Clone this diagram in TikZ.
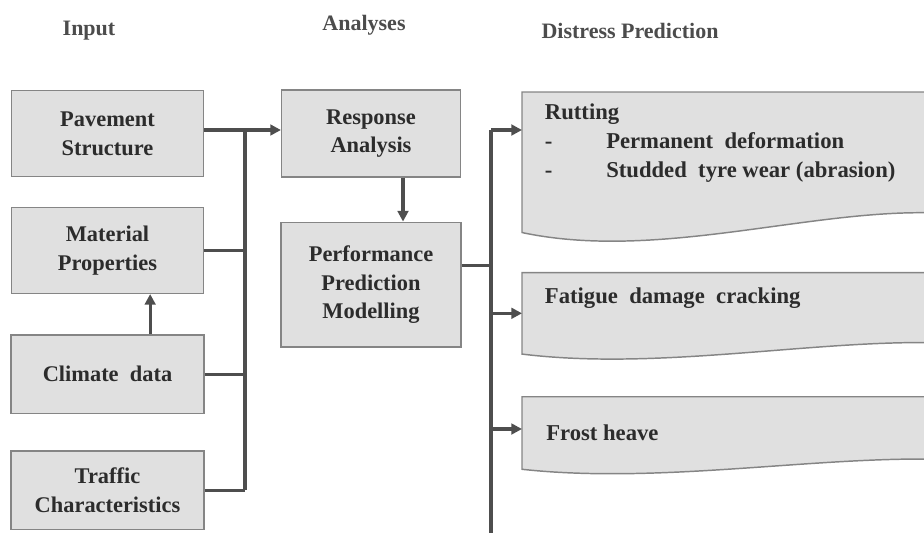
\documentclass[tikz,border=0pt]{standalone}
\usepackage{fontspec}
\setmainfont{Liberation Serif}
\usetikzlibrary{arrows.meta,positioning,calc}

\definecolor{boxfill}{HTML}{E0E0E0}
\definecolor{boxline}{HTML}{858585}
\definecolor{linkcol}{HTML}{4E4E4E}
\definecolor{textcol}{HTML}{2C2C2C}

% wavy "document" outline round a distress node
\newcommand{\docshape}[1]{%
  \filldraw[fill=boxfill, draw=boxline, line width=1.1pt]
    let \p1=(#1.south west), \p2=(#1.north east), \n1={\y2-\y1} in
    (\p1) -- (\x1,\y2) -- (\p2) -- (\x2,\y1+0.136*\n1)
    .. controls (\x1+222pt,\y1+0.19*\n1) and (\x1+104pt,\y1-0.21*\n1) .. (\p1) -- cycle;
}

\begin{document}
\begin{tikzpicture}[x=0.75pt, y=-0.75pt,
        Box/.style={rectangle, draw=boxline, fill=boxfill, line width=1.1pt, align=center,
            text=textcol, font=\bfseries\fontsize{16.8}{21.5}\selectfont},
        Distress/.style={rectangle, draw=none, minimum width=317pt, inner sep=0pt},
        Words/.style={align=left, text=textcol, inner sep=0pt, font=\bfseries\fontsize{17}{21.4}\selectfont},
        Head/.style={text=black!70, font=\bfseries\fontsize{16.5}{18}\selectfont},
        link/.style={draw=linkcol, line width=2.4pt},
        arrow/.style={link, -{Triangle[length=8pt, width=8pt]}},
    ]
        \useasboundingbox (0,0) rectangle (924,532);
        \clip (0,0) rectangle (924,532);

        %Headings
        \node[Head] (InputHead) at (89,31) {Input};
        \node[Head] (AnalysesHead) at (364,25) {Analyses};
        \node[Head] (DistressHead) at (630,31) {Distress Prediction};

        %Input column
        \node[Box, minimum width=144pt, minimum height=64.5pt] (Pavement) at (107.5,133.5) {Pavement\\Structure};
        \node[Box, minimum width=144pt, minimum height=64.5pt] (Material) [below=22pt of Pavement] {Material\\Properties};
        \node[Box, minimum width=145pt, minimum height=59pt] (Climate) [below=30pt of Material] {Climate\ \ data};
        \node[Box, minimum width=145pt, minimum height=59pt] (Traffic) [below=27pt of Climate] {Traffic\\Characteristics};

        %Analyses column
        \node[Box, minimum width=134pt, minimum height=65pt] (Response) at (371,133.5) {Response\\Analysis};
        \node[Box, minimum width=135pt, minimum height=93.5pt] (Performance) [below=33pt of Response] {Performance\\Prediction\\Modelling};

        %Distress column
        \node[Distress, minimum height=105pt, anchor=north west] (Rutting) at (522,92) {};
        \node[Distress, minimum height=60.75pt] (Fatigue) [below=30pt of Rutting] {};
        \node[Distress, minimum height=54pt] (Frost) [below=32pt of Fatigue] {};
        \docshape{Rutting}
        \docshape{Fatigue}
        \docshape{Frost}
        \node[Words, anchor=north west] (RuttingText) at ([xshift=17pt, yshift=-9pt]Rutting.north west)
            {Rutting\\\makebox[46pt][l]{-}Permanent\ \ deformation\\\makebox[46pt][l]{-}Studded\ \ tyre wear (abrasion)};
        \node[Words, anchor=west] (FatigueText) at ([xshift=17pt, yshift=11.5pt]Fatigue.west) {Fatigue\ \ damage\ \ cracking};
        \node[Words, anchor=west] (FrostText) at ([xshift=18pt]Frost.west) {Frost heave};

        %Bus points
        \coordinate (LeftBus) at (245,130);
        \coordinate (RightBus) at (491,130);
        \coordinate (BusEnd) at (491,545);

        %Lines
        \draw[arrow] (Pavement.east |- LeftBus) -- (Response.west |- LeftBus);
        \draw[link] (LeftBus) -- (Traffic.east -| LeftBus);
        \draw[link] (Material.east) -- (Material.east -| LeftBus);
        \draw[link] (Climate.east) -- (Climate.east -| LeftBus);
        \draw[link] (Traffic.east) -- (Traffic.east -| LeftBus);
        \draw[arrow] ([xshift=32pt]Climate.north) -- ([xshift=32pt]Material.south);
        \draw[arrow] ([xshift=24pt]Response.south) -- ([xshift=24pt]Performance.north);
        \draw[link] ([yshift=14.5pt]Performance.east) -- ([yshift=14.5pt]Performance.east -| RightBus);
        \draw[link] (RightBus) -- (BusEnd);
        \draw[arrow] (RightBus) -- (RightBus -| Rutting.west);
        \draw[arrow] (Fatigue.west -| RightBus) -- (Fatigue.west);
        \draw[arrow] ([yshift=3pt]Frost.west -| RightBus) -- ([yshift=3pt]Frost.west);
    \end{tikzpicture}
\end{document}
